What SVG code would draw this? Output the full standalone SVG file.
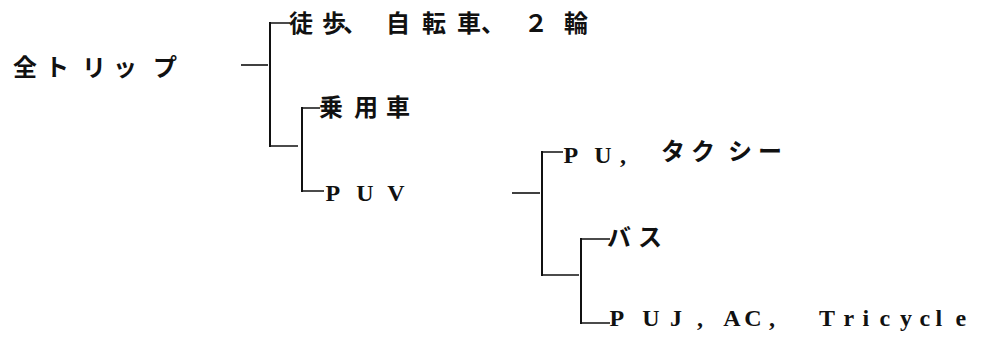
<svg xmlns="http://www.w3.org/2000/svg" width="983" height="339" viewBox="0 0 983 339">
<style>
.j{font-family:"Noto Sans CJK JP","Noto Sans CJK SC",sans-serif;font-size:24px;font-weight:bold;fill:#111}
.l{font-family:"Liberation Serif",serif;font-size:24px;font-weight:bold;fill:#111}
.c{stroke:#111;stroke-width:2;fill:none;stroke-linecap:square}
.t{stroke:#111;stroke-width:1.6;fill:none}
</style>
<rect width="983" height="339" fill="#fff"/>
<g id="connectors">
<path class="t" d="M241 65H268"/>
<path class="c" d="M270 23V146"/>
<path class="t" d="M270 23H290M270 146H298"/>
<path class="c" d="M302 108V191"/>
<path class="t" d="M302 108H320M302 191H324"/>
<path class="t" d="M512 193H540"/>
<path class="c" d="M542 152V275"/>
<path class="t" d="M542 152H563M542 275H579"/>
<path class="c" d="M581 239V323"/>
<path class="t" d="M581 239H610M581 323H610"/>
</g>
<g id="all-trips"><text class="j" x="13 45 82 113 153" y="76">全トリップ</text></g>
<g id="walk-bike"><text class="j" x="289 322 343 386 422 457 481 524 564" y="32">徒歩、自転車、２輪</text></g>
<g id="car"><text class="j" x="319 354 386" y="116">乗用車</text></g>
<g id="puv"><text class="l" x="325.6 356.3 387.3" y="201">PUV</text></g>
<g id="pu-taxi"><text class="l" x="563.6 594.3 620" y="163">PU,</text><text class="j" x="661 691 728 758" y="160">タクシー</text></g>
<g id="bus"><text class="j" x="607 638" y="246">バス</text></g>
<g id="puj"><text class="l" x="609.6 642.3 670 697 723.3 744.3 769 819 843.6 862.6 879.6 900 919.6 935.6 955.6" y="326">PUJ,AC,Tricycle</text></g>
</svg>
